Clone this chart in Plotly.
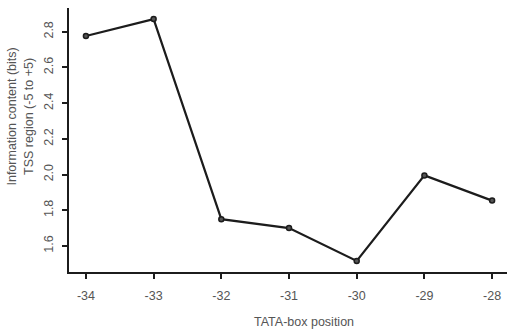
import plotly.graph_objects as go

# TATA-box position vs. information content in the TSS region
positions = [-34, -33, -32, -31, -30, -29, -28]
info_bits = [2.776, 2.871, 1.750, 1.700, 1.516, 1.995, 1.854]

x_ticks = [-34, -33, -32, -31, -30, -29, -28]
y_ticks = [1.6, 1.8, 2.0, 2.2, 2.4, 2.6, 2.8]

x_title = "TATA-box position"
y_title = "Information content (bits)<br>TSS region (-5 to +5)"

text_color = "#555555"
ink = "#1c1c1c"
font_family = "Liberation Sans, Arial, Helvetica, sans-serif"
fsize = 12.5

fig = go.Figure()
fig.add_trace(go.Scatter(
    x=positions,
    y=info_bits,
    mode="lines+markers",
    line=dict(color=ink, width=2.2),
    marker=dict(size=5, color="#555555", line=dict(color=ink, width=1.5)),
    showlegend=False,
    hoverinfo="skip",
))

fig.update_layout(
    width=507,
    height=330,
    margin=dict(l=69, r=0, t=8, b=58),
    paper_bgcolor="white",
    plot_bgcolor="white",
    font=dict(family=font_family, size=fsize, color=text_color),
)

fig.update_xaxes(
    range=[-34.25, -27.78],
    tickvals=x_ticks,
    ticktext=[str(v) for v in x_ticks],
    ticks="outside",
    ticklen=5,
    tickwidth=2,
    tickcolor=ink,
    showline=True,
    linecolor=ink,
    linewidth=2,
    showgrid=False,
    zeroline=False,
    ticklabelstandoff=6,
    tickfont=dict(size=fsize, color=text_color),
)

fig.update_yaxes(
    range=[1.454, 2.933],
    tickvals=y_ticks,
    tickformat=".1f",
    ticks="outside",
    ticklen=5,
    tickwidth=2,
    tickcolor=ink,
    showline=True,
    linecolor=ink,
    linewidth=2,
    showgrid=False,
    zeroline=False,
    tickangle=-90,
    ticklabelstandoff=4,
    tickfont=dict(size=fsize, color=text_color),
)

# Axis titles placed as annotations relative to the plotting area
fig.add_annotation(
    text=x_title, xref="paper", yref="paper",
    x=0.5, y=0, xanchor="center", yanchor="middle",
    xshift=16, yshift=-50, showarrow=False,
    font=dict(size=fsize, color=text_color),
)
fig.add_annotation(
    text=y_title, xref="paper", yref="paper",
    x=0, y=0.587, xanchor="center", yanchor="middle",
    xshift=-48.5, textangle=-90, showarrow=False,
    font=dict(size=fsize, color=text_color),
)

fig.write_html("out.html")
